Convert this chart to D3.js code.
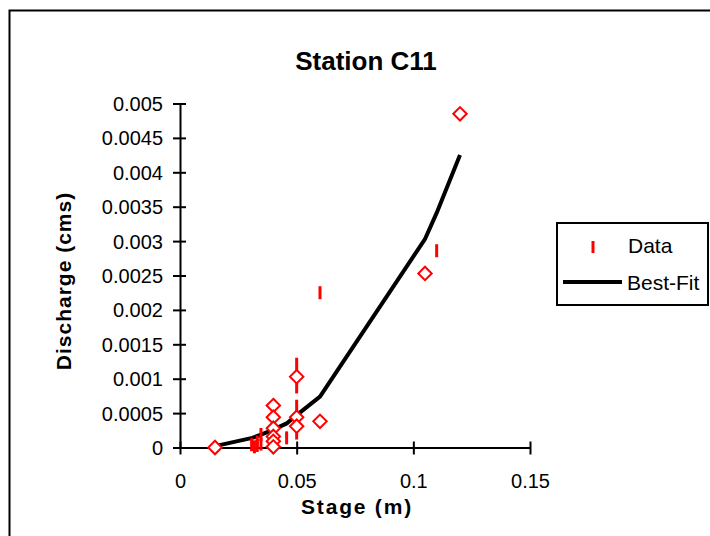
<!DOCTYPE html>
<html>
<head>
<meta charset="utf-8">
<script src="https://cdn.jsdelivr.net/npm/d3@7"></script>
<style>
  body { margin: 0; background: #fff; }
  svg { display: block; font-family: "Liberation Sans", Arial, sans-serif; }
</style>
</head>
<body>
<svg width="710" height="536"></svg>
<script>
// data
var dataX = [0.0307, 0.0319, 0.0331, 0.0331, 0.0347, 0.0347, 0.0457, 0.05, 0.05, 0.05, 0.05, 0.06, 0.11];
var dataY = [0.00004, 0.00001, 0.00003, 0.00008, 0.00019, 0.00005, 0.00014, 0.00121, 0.00088, 0.0006, 0.00021, 0.00225, 0.00286];

var obsX = [0.015, 0.04, 0.04, 0.04, 0.04, 0.04, 0.04, 0.05, 0.05, 0.05, 0.06, 0.105, 0.12];
var obsY = [0, 0.00061, 0.00044, 0.00028, 0.00016, 0.00009, 0.00001, 0.00103, 0.00044, 0.00031, 0.00038, 0.00253, 0.00485];

var fitX = [0.015, 0.031, 0.035, 0.04, 0.0457, 0.05, 0.06, 0.105, 0.11, 0.12];
var fitY = [0.00002, 0.00014, 0.00019, 0.00026, 0.00035, 0.00047, 0.00074, 0.00303, 0.00341, 0.00425];

var xTicks = [0, 0.05, 0.1, 0.15];
var yTicks = [0, 0.0005, 0.001, 0.0015, 0.002, 0.0025, 0.003, 0.0035, 0.004, 0.0045, 0.005];

var svg = d3.select("svg");

// outer chart frame (only left/top edges are inside the window)
svg.append("rect")
  .attr("x", 9.5).attr("y", 10.5)
  .attr("width", 760).attr("height", 600)
  .attr("fill", "#fff").attr("stroke", "#000").attr("stroke-width", 2);

var x = d3.scaleLinear().domain([0, 0.15]).range([180, 530]);
var y = d3.scaleLinear().domain([0, 0.005]).range([447.5, 103.5]);

// axes
var xAxis = svg.append("g")
  .attr("transform", "translate(0," + y(0) + ")")
  .call(d3.axisBottom(x).tickValues(xTicks).tickSize(0).tickFormat(d3.format("")));
xAxis.select(".domain").attr("stroke-width", 2);
xAxis.selectAll(".tick line").attr("y1", -6).attr("y2", 7).attr("stroke-width", 2);
xAxis.selectAll(".tick text").attr("y", 33).attr("dy", "0.35em")
  .attr("font-size", 20).attr("fill", "#000");

var yAxis = svg.append("g")
  .attr("transform", "translate(" + x(0) + ",0)")
  .call(d3.axisLeft(y).tickValues(yTicks).tickSize(0).tickFormat(d3.format("")));
yAxis.select(".domain").attr("stroke-width", 2);
yAxis.selectAll(".tick line").attr("x1", -7).attr("x2", 6).attr("stroke-width", 2);
yAxis.selectAll(".tick text").attr("x", -17).attr("dy", "0.35em")
  .attr("font-size", 20).attr("fill", "#000");

// best-fit line
var line = d3.line()
  .x(function(d) { return x(d[0]); })
  .y(function(d) { return y(d[1]); });

svg.append("path")
  .datum(d3.zip(fitX, fitY))
  .attr("d", line)
  .attr("fill", "none")
  .attr("stroke", "#000")
  .attr("stroke-width", 4);

// data bars
svg.append("g").selectAll("line")
  .data(d3.zip(dataX, dataY))
  .enter().append("line")
    .attr("x1", function(d) { return x(d[0]); })
    .attr("x2", function(d) { return x(d[0]); })
    .attr("y1", function(d) { return y(d[1]) - 6.5; })
    .attr("y2", function(d) { return y(d[1]) + 6.5; })
    .attr("stroke", "#ff0000")
    .attr("stroke-width", 3);

// diamonds
var diamond = d3.symbol().type(d3.symbolDiamond2).size(115);
svg.append("g").selectAll("path")
  .data(d3.zip(obsX, obsY))
  .enter().append("path")
    .attr("d", diamond)
    .attr("transform", function(d) { return "translate(" + x(d[0]) + "," + y(d[1]) + ")"; })
    .attr("fill", "#fff")
    .attr("stroke", "#ff0000")
    .attr("stroke-width", 2);

// titles
svg.append("text")
  .attr("x", 366).attr("y", 70)
  .attr("text-anchor", "middle")
  .attr("font-size", 26).attr("font-weight", "bold")
  .text("Station C11");

svg.append("text")
  .attr("x", 357).attr("y", 514)
  .attr("text-anchor", "middle")
  .attr("font-size", 21).attr("font-weight", "bold")
  .attr("letter-spacing", 1.8)
  .text("Stage (m)");

svg.append("text")
  .attr("transform", "translate(71,281) rotate(-90)")
  .attr("text-anchor", "middle")
  .attr("font-size", 21).attr("font-weight", "bold")
  .attr("letter-spacing", 1)
  .text("Discharge (cms)");

// legend
var legend = svg.append("g");
legend.append("rect")
  .attr("x", 557).attr("y", 223)
  .attr("width", 151).attr("height", 82)
  .attr("fill", "#fff").attr("stroke", "#000").attr("stroke-width", 2);
legend.append("line")
  .attr("x1", 593).attr("x2", 593)
  .attr("y1", 241).attr("y2", 253)
  .attr("stroke", "#ff0000").attr("stroke-width", 3);
legend.append("text")
  .attr("x", 628).attr("y", 253)
  .attr("font-size", 21)
  .text("Data");
legend.append("line")
  .attr("x1", 563).attr("x2", 622)
  .attr("y1", 282).attr("y2", 282)
  .attr("stroke", "#000").attr("stroke-width", 4);
legend.append("text")
  .attr("x", 627).attr("y", 290)
  .attr("font-size", 21)
  .text("Best-Fit");
</script>
</body>
</html>
